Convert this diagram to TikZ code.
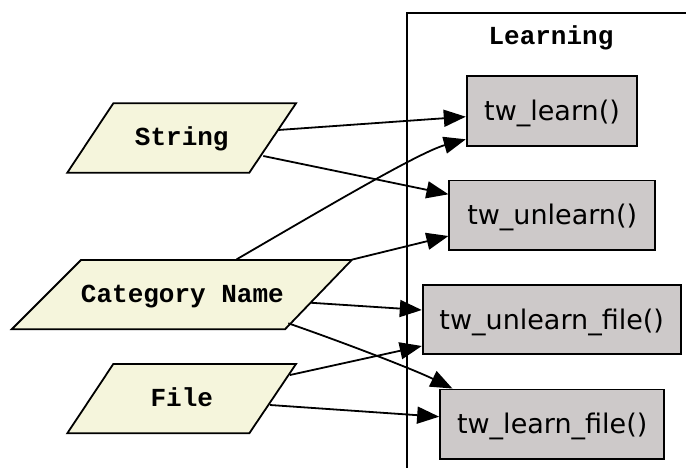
\documentclass[tikz,border=0pt]{standalone}
\usepackage{fontspec}
\usetikzlibrary{arrows.meta,calc}
\newfontfamily\monofnt{Liberation Mono}
\newfontfamily\boxfnt{DejaVu Sans}
\definecolor{beigefill}{RGB}{245,245,220}
\definecolor{snowthree}{RGB}{205,201,201}
\begin{document}
\begin{tikzpicture}[x=1pt,y=-1pt,
  para/.style={draw, line width=1.8pt, fill=beigefill, line join=miter},
  inp/.style={font=\monofnt\bfseries\fontsize{26}{26}\selectfont, inner sep=0pt,
    text height=18pt, text depth=2pt},
  fn/.style={rectangle, draw, line width=1.8pt, fill=snowthree,
    font=\boxfnt\fontsize{27}{27}\selectfont, inner sep=0pt,
    minimum height=69.5pt, text height=21pt, text depth=1.6pt},
  edge/.style={line width=1.8pt, -{Triangle[length=22pt,width=17pt]}},
  frame/.style={line width=1.8pt}]
\useasboundingbox[fill=white] (0,0) rectangle (686,468);

% cluster frame
\draw[frame] (407.3,480) -- (407.3,12.7) -- (700,12.7);
\node[font=\monofnt\bfseries\fontsize{26}{26}\selectfont, anchor=base] (lbl) at (551,45) {Learning};

% input parallelograms
\path[para] (113.3,103.3) -- (296,103.3) -- (249.3,172.7) -- (67.3,172.7) -- cycle;
\path[para] (81,260) -- (351.7,260) -- (285,329.3) -- (11.7,329.3) -- cycle;
\path[para] (113.3,364) -- (296,364) -- (249.3,433.3) -- (67.3,433.3) -- cycle;
\node[inp] (str) at (181.8,138) {String};
\node[inp] (cat) at (182.4,294.7) {Category Name};
\node[inp] (fil) at (181.8,398.7) {File};

% functions
\node[fn, minimum width=170.6pt] (tl) at (552,111) {tw\_learn()};
\node[fn, minimum width=205.7pt] (tu) at (552.2,215.3) {tw\_unlearn()};
\node[fn, minimum width=258pt] (tuf) at (551.7,319.5) {tw\_unlearn\_file()};
\node[fn, minimum width=224.3pt] (tlf) at (552.2,424.2) {tw\_learn\_file()};

% edges
\draw[edge] ($(str)+(96.5,-8)$) -- ([yshift=-5.7pt]tl.west);
\draw[edge] ($(str)+(81.5,18)$) -- ([yshift=21pt]tu.west);
\draw[edge] ($(cat)+(54.3,-35.4)$) .. controls (330,205) and (420,152) .. ([yshift=-28.3pt]tl.west);
\draw[edge] ($(cat)+(169.3,-35)$) -- ([yshift=-20.7pt]tu.west);
\draw[edge] ($(cat)+(127.6,8)$) -- ([yshift=9.5pt]tuf.west);
\draw[edge] ($(cat)+(105.9,28.6)$) .. controls (345,343) and (415,370) .. ([xshift=13.3pt]tlf.north west);
\draw[edge] ($(fil)+(108.2,-23.7)$) -- ([yshift=-26.5pt]tuf.west);
\draw[edge] ($(fil)+(88.2,6.3)$) -- ([yshift=7.5pt]tlf.west);
\end{tikzpicture}
\end{document}
